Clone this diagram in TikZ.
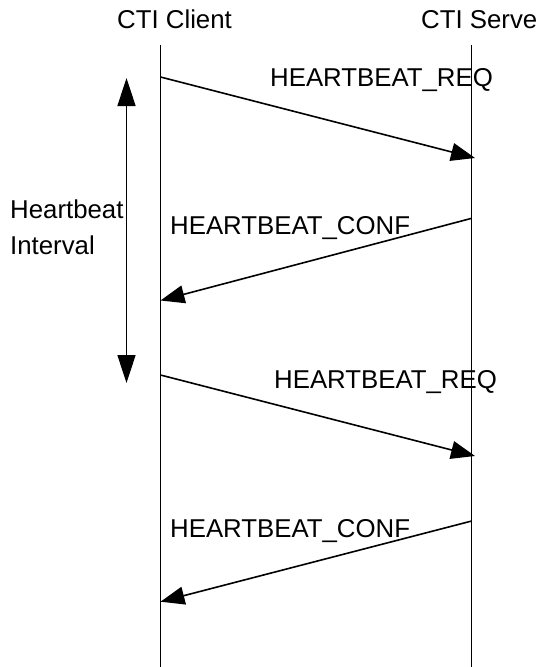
\documentclass[tikz,border=0pt]{standalone}
\usepackage{fontspec}
\setmainfont{Liberation Sans}
\usetikzlibrary{arrows.meta}
\begin{document}
\begin{tikzpicture}[x=1pt,y=-1pt,
  lifeline/.style={line width=1.5pt},
  msg/.style={line width=1.6pt,-{Triangle[length=24pt,width=18pt]}},
  interval/.style={line width=1.6pt,{Triangle[length=28pt,width=18pt]}-{Triangle[length=28pt,width=18pt]}},
  lbl/.style={font=\fontsize{25.8}{36}\selectfont,inner sep=0pt,anchor=base west}]
\useasboundingbox (0,0) rectangle (537,667);
\clip (0,0) rectangle (537,667);
% headers
\node[lbl] (client) at (117,28) {CTI Client};
\node[lbl] (server) at (421,28) {CTI Server};
% lifelines
\coordinate (ctop) at (160.5,44.5);
\coordinate (cbot) at (160.5,667);
\coordinate (stop) at (471.7,44.5);
\coordinate (sbot) at (471.7,667);
\draw[lifeline] (ctop) -- (cbot);
\draw[lifeline] (stop) -- (sbot);
% message end points
\coordinate (r1s) at (160.5,77);
\coordinate (r1e) at (475,158);
\coordinate (c1s) at (471.7,218.3);
\coordinate (c1e) at (160.5,300.5);
\coordinate (r2s) at (160.5,375);
\coordinate (r2e) at (475,456);
\coordinate (c2s) at (471.7,521);
\coordinate (c2e) at (160.5,601.7);
\draw[msg] (r1s) -- (r1e);
\draw[msg] (c1s) -- (c1e);
\draw[msg] (r2s) -- (r2e);
\draw[msg] (c2s) -- (c2e);
% message labels
\node[lbl] (req1) at (270,86) {HEARTBEAT\_REQ};
\node[lbl] (conf1) at (170,234) {HEARTBEAT\_CONF};
\node[lbl] (req2) at (274,388) {HEARTBEAT\_REQ};
\node[lbl] (conf2) at (170,537) {HEARTBEAT\_CONF};
% interval
\coordinate (itop) at (126.5,78);
\coordinate (ibot) at (126.5,383);
\draw[interval] (itop) -- (ibot);
\node[lbl] (hb) at (10,218) {Heartbeat};
\node[lbl] (iv) at (10,254) {Interval};
\end{tikzpicture}
\end{document}
